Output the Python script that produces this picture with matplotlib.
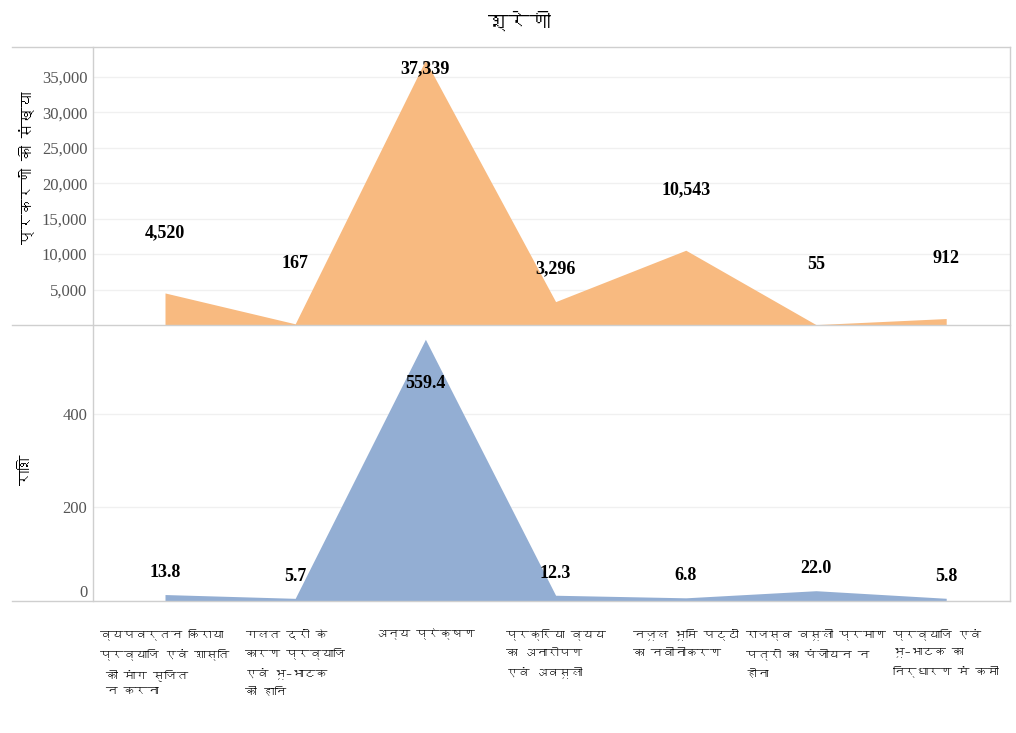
import matplotlib
matplotlib.use("Agg")
import matplotlib.pyplot as plt
from matplotlib import font_manager
from matplotlib.ft2font import FT2Font
from matplotlib.lines import Line2D
import numpy as np

categories = [
    "व्यपवर्तन किराया\nप्रव्याजि एवं शास्ति\n की मांग सृजित\n न करना",
    "गलत दरों के\nकारण प्रव्याजि\nएवं भू–भाटक\nकी हानि",
    "अन्य प्रेक्षण",
    "प्रक्रिया व्यय\nका अनारोपण\nएवं अवसूली",
    "नजूल भूमि पट्टों\nका नवीनीकरण",
    "राजस्व वसूली प्रमाण\nपत्रों का पंजीयन न\nहोना",
    "प्रव्याजि एवं\nभू–भाटक का\nनिर्धारण में कमी",
]
cases = [4520, 167, 37339, 3296, 10543, 55, 912]
amount = [13.8, 5.7, 559.4, 12.3, 6.8, 22.0, 5.8]
case_ticks = [5000, 10000, 15000, 20000, 25000, 30000, 35000]
amount_ticks = [0, 200, 400]

title = "श्रेणी"
ylabel_top = "प्रकरणों की संख्या"
ylabel_bottom = "राशि"

ORANGE = "#F8BA80"
BLUE = "#93AED3"
LINE = "#CFCFCF"
GRID = "#F0F0F0"


def devanagari_font():
    # look for any installed face that has the Devanagari block
    for f in font_manager.fontManager.ttflist:
        try:
            if 0x0915 in FT2Font(f.fname).get_charmap():
                return f.name
        except Exception:
            pass
    return None


dev = devanagari_font()
HINDI = ([dev] if dev else []) + ["DejaVu Sans"]
NUM = ["Liberation Serif", "DejaVu Serif"]

W, H = 1016, 733
fig = plt.figure(figsize=(W / 100, H / 100), dpi=100)
L, R = 93, 1010
T1, MID, B2 = 47, 325, 601
ax1 = fig.add_axes([L / W, 1 - MID / H, (R - L) / W, (MID - T1) / H])
ax2 = fig.add_axes([L / W, 1 - B2 / H, (R - L) / W, (B2 - MID) / H], sharex=ax1)

x = np.arange(len(cases))
ax1.fill_between(x, cases, color=ORANGE, lw=0)
ax2.fill_between(x, amount, color=BLUE, lw=0)
ax1.set_xlim(-0.553, 6.49)
ax1.set_ylim(0, 39200)
ax2.set_ylim(0, 590)

for ax, ticks in ((ax1, case_ticks), (ax2, amount_ticks)):
    for s in ax.spines.values():
        s.set_visible(False)
    ax.set_yticks(ticks)
    ax.yaxis.grid(True, color=GRID, lw=1)
    ax.set_axisbelow(True)
    ax.tick_params(axis="y", length=0, pad=4, labelsize=12, labelcolor="#555555")
    ax.tick_params(axis="x", length=0, labelbottom=False)
ax1.set_yticklabels([f"{t:,}" for t in case_ticks], family=NUM)
ax2.set_yticklabels([str(t) for t in amount_ticks], family=NUM)
zero = ax2.get_yticklabels()[0]
zero.set_va("bottom")

# value labels
top1 = ax1.get_ylim()[1]
off1 = 60 * top1 / (MID - T1)
for i, v in enumerate(cases):
    y = v + off1
    if i == 3:
        y = v + 0.55 * off1
    if y > top1 - 3000:
        y = top1 - 3000
    ax1.text(i, y, f"{v:,}", ha="center", va="center", fontsize=13,
             fontweight="bold", family=NUM, color="black")

top2 = ax2.get_ylim()[1]
px2 = top2 / (B2 - MID)
for i, v in enumerate(amount):
    y = v + 22 * px2
    if y > top2 - 15 * px2:
        y = v - 44 * px2
    ax2.text(i, y, f"{v:.1f}", ha="center", va="center", fontsize=13,
             fontweight="bold", family=NUM, color="black")

# category labels under the lower panel
for i, lab in enumerate(categories):
    xd = ax2.transData.transform((i, 0))[0]
    fig.text(xd / W, 1 - 628 / H, lab, ha="center", va="top", fontsize=8.5,
             family=HINDI, linespacing=1.85, color="#111111",
             multialignment="left")

# frame lines like the original table layout
for yy in (T1, MID, B2):
    fig.add_artist(Line2D([12 / W, R / W], [1 - yy / H] * 2, color=LINE, lw=1))
for xx in (L, R):
    fig.add_artist(Line2D([xx / W] * 2, [1 - T1 / H, 1 - B2 / H], color=LINE, lw=1))

fig.text(519 / W, 1 - 22 / H, title, ha="center", va="center", fontsize=15,
         fontweight="bold", family=HINDI)
fig.text(27 / W, 1 - 168 / H, ylabel_top, ha="center", va="center", rotation=90,
         fontsize=11, fontweight="bold", family=HINDI)
fig.text(27 / W, 1 - 470 / H, ylabel_bottom, ha="center", va="center", rotation=90,
         fontsize=11, fontweight="bold", family=HINDI)

fig.savefig("out.png", dpi=100)
